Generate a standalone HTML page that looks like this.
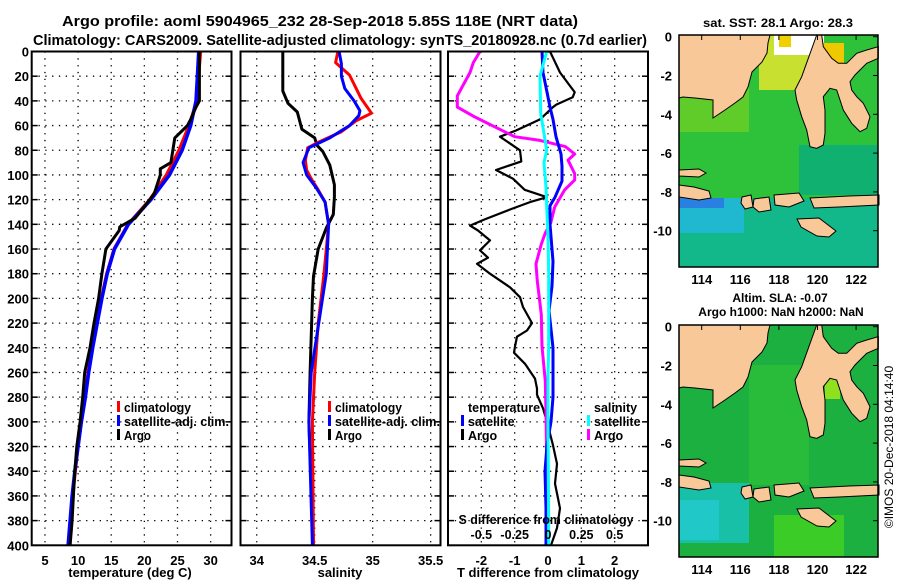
<!DOCTYPE html>
<html><head><meta charset="utf-8"><style>
body{margin:0;background:#fff;}
svg{display:block;font-family:"Liberation Sans",sans-serif;font-weight:bold;}
</style></head><body>
<svg id="c" width="900" height="580" viewBox="0 0 900 580" xmlns="http://www.w3.org/2000/svg">
<text x="62" y="26" font-size="15" textLength="516" lengthAdjust="spacingAndGlyphs">Argo profile: aoml 5904965_232 28-Sep-2018 5.85S 118E (NRT data)</text>
<text x="33" y="45" font-size="15" textLength="614" lengthAdjust="spacingAndGlyphs">Climatology: CARS2009. Satellite-adjusted climatology: synTS_20180928.nc (0.7d earlier)</text>
<g id="plots"></g>
<g id="maps"></g>
<text transform="translate(893,447) rotate(-90)" font-size="12" font-weight="normal" text-anchor="middle">©IMOS 20-Dec-2018 04:14:40</text>
</svg>
<script>
// ---- data ----
const depthTicks=[0,20,40,60,80,100,120,140,160,180,200,220,240,260,280,300,320,340,360,380,400];
const tempTicks=[5,10,15,20,25,30];
const salTicks=[34,34.5,35,35.5];
const tdiffTicks=[-2,-1,0,1,2];
const sdiffTicks=[-0.5,-0.25,0,0.25,0.5];
const sdiffLabels=["-0.5","-0.25","0","0.25","0.5"];

const tArgoDepth=[0,40,45,55,60,70,90,95,100,115,125,135,142,145,160,180,200,220,240,260,280,300,320,340,360,380,400];
const tArgo=[28.3,28.3,27.8,27,26.5,24.6,24,22.4,22.4,21.5,20.1,18.6,16.3,16.2,14.2,13.6,13.1,12.4,11.8,11.0,10.7,10.3,9.8,9.5,9.3,9.1,8.8];
const tClimDepth=[0,20,40,60,80,100,120,140,160,180,200,220,240,260,280,300,320,340,360,380,400];
const tClim=[28.5,28.2,27.9,26.7,25.2,23.3,20.8,17.5,15.4,14.3,13.5,12.8,12.1,11.5,11,10.5,10,9.6,9.2,8.9,8.6];
const tSat=[28.2,28,27.8,27,25.7,23.8,21,17.6,15.5,14.4,13.6,12.9,12.2,11.6,11.1,10.5,10,9.5,9.1,8.8,8.5];

const sArgoDepth=[0,32,42,49,63,70,76,81,92,100,108,118,132,143,160,182,200,260,300,400];
const sArgo=[34.225,34.225,34.27,34.35,34.39,34.5,34.52,34.57,34.63,34.65,34.67,34.67,34.66,34.6,34.53,34.49,34.48,34.46,34.45,34.49];
const sClimDepth=[0,9,19,38,50,56,65,74,78,88,96,103,112,122,140,160,180,220,260,300,400];
const sClim=[34.7,34.68,34.8,34.9,34.99,34.86,34.73,34.52,34.44,34.42,34.43,34.47,34.53,34.59,34.62,34.6,34.58,34.53,34.5,34.48,34.49];
const sSatDepth=[0,10,20,30,40,48,52,60,70,78,90,100,110,122,140,180,260,300,400];
const sSat=[34.71,34.73,34.73,34.76,34.84,34.89,34.88,34.8,34.63,34.45,34.4,34.43,34.51,34.59,34.62,34.6,34.47,34.45,34.48];

const dtArgoDepth=[0,17,33,37,43,45,55,64,69,80,89,96,103,112,118,122,128,136,141,145,153,161,167,172,180,191,199,207,220,226,231,239,244,253,265,273,278,289,300,319,334,350,362,370,386,400];
const dtArgo=[0.06,0.36,0.8,0.74,0.25,0.15,-0.24,-0.96,-1.44,-0.84,-0.8,-1.56,-1.05,-0.7,-0.03,-0.54,-1.14,-1.9,-2.34,-2.1,-1.74,-2.04,-1.8,-2.13,-1.74,-1.14,-0.84,-0.75,-0.48,-0.63,-0.93,-0.99,-1.02,-0.69,-0.39,-0.33,-0.33,-0.15,-0.03,0.15,0.27,0.21,0.3,0.36,0.27,0.09];
const dtSatDepth=[0,17,33,45,55,69,83,93,105,118,125,140,170,190,210,240,280,300,319,340,370,400];
const dtSat=[-0.18,-0.15,-0.03,0.06,0.15,0.24,0.39,0.42,0.42,0.21,0.06,0.06,0.15,0.12,0.03,0.15,0.15,0.09,-0.03,-0.09,-0.06,-0.06];
const dsArgoDepth=[0,9,17,36,45,53,61,69,72,77,83,88,99,104,112,126,139,147,156,172,186,213,239,267,294,330,370,400];
const dsArgo=[-0.51,-0.56,-0.585,-0.68,-0.68,-0.55,-0.4,-0.25,-0.06,0.13,0.2,0.15,0.2,0.2,0.125,0.05,0.02,-0.02,-0.05,-0.09,-0.08,-0.05,-0.045,-0.02,-0.015,-0.01,0,0];
const dsSatDepth=[0,20,50,80,90,110,125,150,180,240,260,300,350,400];
const dsSat=[-0.01,-0.06,-0.055,-0.01,-0.03,-0.015,-0.01,0,0.005,0.005,0,0,0.003,0.005];

// ---- drawing ----
const NS="http://www.w3.org/2000/svg";
const plots=document.getElementById('plots');
function mk(tag,attrs,parent){const e=document.createElementNS(NS,tag);for(const k in attrs)e.setAttribute(k,attrs[k]);(parent||plots).appendChild(e);return e;}
const Y0=51.5,Y1=545.3;
function yD(d){return Y0+(d/400)*(Y1-Y0);}
function panel(L,R,dmin,dmax,name){
  const g=mk('g',{});
  
  
  const x=v=>L+(v-dmin)/(dmax-dmin)*(R-L);
  return {g,x,L,R};
}
function grid(p,xt){
  depthTicks.forEach(d=>{if(d>0&&d<400){const l=mk('line',{x1:p.L,x2:p.R,y1:yD(d),y2:yD(d),stroke:'#000','stroke-width':1.3,'stroke-dasharray':'1.3 5.5'},p.g);
    }
    mk('line',{x1:p.L,x2:p.L+6,y1:yD(d),y2:yD(d),stroke:'#000','stroke-width':1.5},p.g);
    mk('line',{x1:p.R-6,x2:p.R,y1:yD(d),y2:yD(d),stroke:'#000','stroke-width':1.5},p.g);});
  xt.forEach(v=>{const l=mk('line',{x1:p.x(v),x2:p.x(v),y1:Y0,y2:Y1,stroke:'#000','stroke-width':1.3,'stroke-dasharray':'1.3 5.5'},p.g);
    });
}
function frame(p){const r=mk('rect',{x:p.L,y:Y0,width:p.R-p.L,height:Y1-Y0,fill:'none',stroke:'#000','stroke-width':2},p.g);
  }
function line(p,depths,vals,color,w,name){
  const pts=depths.map((d,i)=>p.x(vals[i]).toFixed(1)+','+yD(d).toFixed(1)).join(' ');
  const l=mk('polyline',{points:pts,fill:'none',stroke:color,'stroke-width':w,'stroke-linejoin':'round'},p.g);
  
}
function txt(s,x,y,attrs,parent,name){const t=mk('text',Object.assign({x,y,'font-size':13},attrs||{}),parent);t.textContent=s;
  return t;}

depthTicks.forEach(d=>{txt(String(d),29,yD(d)+5,{'text-anchor':'end'},plots,'depth-tick-label');});

const legA=[['climatology','#f00',67],['satellite-adj. clim.','#00f',105],['Argo','#000',27]];

// Panel 1 temperature
const p1=panel(31.7,231.5,3,33.15,'temperature-panel');
grid(p1,tempTicks);
line(p1,tClimDepth,tClim,'#f00',3,'temp-climatology-line');
line(p1,tClimDepth,tSat,'#00f',3.5,'temp-satellite-line');
line(p1,tArgoDepth,tArgo,'#000',3,'temp-argo-line');
frame(p1);
tempTicks.forEach(v=>txt(String(v),p1.x(v),565,{'text-anchor':'middle'},p1.g,'temp-tick-label'));
txt('temperature (deg C)',130,577,{'text-anchor':'middle'},p1.g,'x-axis-title-temperature');
legA.forEach((e,i)=>{
  const y=412+i*14;mk('rect',{x:117,y:y-11,width:3,height:11,fill:e[1]},p1.g);txt(e[0],124,y,{'font-size':12.5,textLength:e[2],lengthAdjust:'spacingAndGlyphs'},p1.g,'legend-entry');});

// Panel 2 salinity
const p2=panel(240.5,440.5,33.86,35.585,'salinity-panel');
grid(p2,salTicks);
line(p2,sArgoDepth,sArgo,'#000',3,'sal-argo-line');
line(p2,sClimDepth,sClim,'#f00',3,'sal-climatology-line');
line(p2,sSatDepth,sSat,'#00f',3,'sal-satellite-line');
frame(p2);
salTicks.forEach(v=>txt(String(v),p2.x(v),565,{'text-anchor':'middle'},p2.g,'sal-tick-label'));
txt('salinity',340,577,{'text-anchor':'middle'},p2.g,'x-axis-title-salinity');
legA.forEach((e,i)=>{
  const y=412+i*14;mk('rect',{x:328,y:y-11,width:3,height:11,fill:e[1]},p2.g);txt(e[0],335,y,{'font-size':12.5,textLength:e[2],lengthAdjust:'spacingAndGlyphs'},p2.g,'legend-entry');});

// Panel 3 differences
const p3=panel(448,648,-3,3,'difference-panel');
const xs=v=>p3.x(v*4);
grid(p3,tdiffTicks);
line(p3,dtArgoDepth,dtArgo,'#000',2.2,'tdiff-argo-line');
line(p3,dsArgoDepth,dsArgo.map(v=>v*4),'#f0f',3,'sdiff-argo-line');
line(p3,dtSatDepth,dtSat,'#00f',3,'tdiff-satellite-line');
line(p3,dsSatDepth,dsSat.map(v=>v*4),'#0ff',3,'sdiff-satellite-line');
frame(p3);
tdiffTicks.forEach(v=>txt(String(v),p3.x(v),565,{'text-anchor':'middle'},p3.g,'tdiff-tick-label'));
txt('T difference from climatology',548,577,{'text-anchor':'middle'},p3.g,'x-axis-title-tdiff');
txt('S difference from climatology',546,524,{'text-anchor':'middle','font-size':12.5,textLength:175,lengthAdjust:'spacingAndGlyphs'},p3.g,'s-axis-title');
sdiffTicks.forEach((v,i)=>txt(sdiffLabels[i],xs(v),539,{'text-anchor':'middle','font-size':12.5},p3.g,'sdiff-tick-label'));
txt('temperature',468,412,{'font-size':12.5,textLength:72,lengthAdjust:'spacingAndGlyphs'},p3.g,'legend-header-temperature');
txt('salinity',594,412,{'font-size':12.5},p3.g,'legend-header-salinity');
[['satellite','#00f',461],['Argo','#000',461],['satellite','#0ff',587],['Argo','#f0f',587]].forEach((e,i)=>{
  const y=426+(i%2)*14;mk('rect',{x:e[2],y:y-11,width:3,height:11,fill:e[1]},p3.g);txt(e[0],e[2]+7,y,{'font-size':12.5},p3.g,'legend-entry');});

// ---- maps ----
const maps=document.getElementById('maps');
const borneo=[[0,0],[91,0],[89,8],[88,18],[83,27],[78,32],[73,37],[69,52],[64,62],[56,68],[46,75],[34,83],[34,65],[16,63],[4,62],[0,63]];
const sulawesi=[[137.7,0],[129.3,23.3],[122.7,41.7],[116,55],[117.7,65],[122.7,81.7],[127.7,95],[131,111.7],[137.7,113.3],[144.3,110],[146,98.3],[146,75],[144.3,61.7],[151,53.3],[157.7,55],[161,65],[164.3,75],[172.7,88.3],[181,96.7],[187.7,93.3],[191,81.7],[184.3,68.3],[177.7,61.7],[172.7,55],[171,46.7],[176,40],[187.7,28.3],[199.3,23.3],[199.3,11.7],[187.7,15],[177.7,18.3],[167.7,28.3],[159.3,28.3],[152.7,23.3],[144.3,11.7],[142.7,0]];
const islands=[
 [[0,135],[20,134],[27,138],[20,142],[0,141]],
 [[0,150],[15,152],[30,156],[32,163],[20,165],[0,162]],
 [[63,162],[72,160],[74,172],[66,174],[62,168]],
 [[75,164],[90,162],[92,175],[80,177],[74,172]],
 [[95,160],[120,158],[125,166],[110,172],[96,170]],
 [[131,163],[170,161],[200,160],[200,170],[160,172],[135,173]],
 [[118,184],[140,183],[157,196],[150,202],[138,201],[122,192]]
];
function poly(g,pts,fill,ox,oy,name){const p=document.createElementNS(NS,'polygon');
  p.setAttribute('points',pts.map(q=>(q[0]+ox)+','+(q[1]+oy)).join(' '));p.setAttribute('fill',fill);p.setAttribute('stroke','#000');p.setAttribute('stroke-width','1');
  g.appendChild(p);}
function drawMap(top,sst){
  const ox=679,W=199,H=232;
  const g=document.createElementNS(NS,'g');maps.appendChild(g);
  
  const lat0=top+1.7, sc=19.4;
  if(sst){
    mk('rect',{x:ox,y:top,width:W,height:H,fill:'#2ec23a'},g);
    mk('rect',{x:ox,y:top+52,width:70,height:45,fill:'#60cc2a'},g);
    mk('rect',{x:ox+80,y:top,width:60,height:55,fill:'#c8e030'},g);
    mk('rect',{x:ox+95,y:top,width:50,height:20,fill:'#fff'},g);
    mk('rect',{x:ox+100,y:top,width:12,height:12,fill:'#f0d000'},g);
    mk('rect',{x:ox+140,y:top+8,width:25,height:20,fill:'#f0c800'},g);
    mk('rect',{x:ox+120,y:top+110,width:79,height:50,fill:'#10b070'},g);
    mk('rect',{x:ox,y:top+163,width:W,height:69,fill:'#12b88a'},g);
    mk('rect',{x:ox,y:top+163,width:65,height:35,fill:'#20b8d0'},g);
    mk('rect',{x:ox,y:top+163,width:45,height:10,fill:'#2a80e0'},g);
  } else {
    mk('rect',{x:ox,y:top,width:W,height:H,fill:'#1cb040'},g);
    mk('rect',{x:ox+70,y:top+40,width:60,height:120,fill:'#28bc3a'},g);
    mk('rect',{x:ox,y:top+158,width:70,height:60,fill:'#18c0a8'},g);
    mk('rect',{x:ox,y:top+175,width:40,height:40,fill:'#20c8c8'},g);
    mk('rect',{x:ox+95,y:top+190,width:70,height:42,fill:'#3ccc28'},g);
    mk('rect',{x:ox+146,y:top+54,width:15,height:20,fill:'#90e020'},g);
  }
  poly(g,borneo,'#f8c898',ox,top,'borneo-land');
  poly(g,sulawesi,'#f8c898',ox,top,'sulawesi-land');
  islands.forEach(p=>poly(g,p,'#f8c898',ox,top,'island-land'));
  const fr=mk('rect',{x:ox,y:top,width:W,height:H,fill:'none',stroke:'#000','stroke-width':1.5},g);
  
  [0,-2,-4,-6,-8,-10].forEach(l=>{const y=lat0-l*sc;mk('line',{x1:ox+W-5,x2:ox+W,y1:y,y2:y,stroke:'#000'},g);
    txt(String(l),672,y+5,{'text-anchor':'end'},g,'lat-tick-label');});
  [114,116,118,120,122].forEach(l=>{const x=701.7+(l-114)*19.3;mk('line',{x1:x,x2:x,y1:top,y2:top+5,stroke:'#000'},g);
    txt(String(l),x,top+H+17,{'text-anchor':'middle'},g,'lon-tick-label');});
}
drawMap(35,true);
drawMap(325,false);
txt('sat. SST: 28.1 Argo: 28.3',778,27,{'text-anchor':'middle','font-size':12,textLength:150,lengthAdjust:'spacingAndGlyphs'},maps,'sst-map-title');
txt('Altim. SLA: -0.07',780,302,{'text-anchor':'middle','font-size':12},maps,'sla-map-title');
txt('Argo h1000: NaN h2000: NaN',781,316,{'text-anchor':'middle','font-size':12},maps,'sla-map-subtitle');
</script>
</body></html>
